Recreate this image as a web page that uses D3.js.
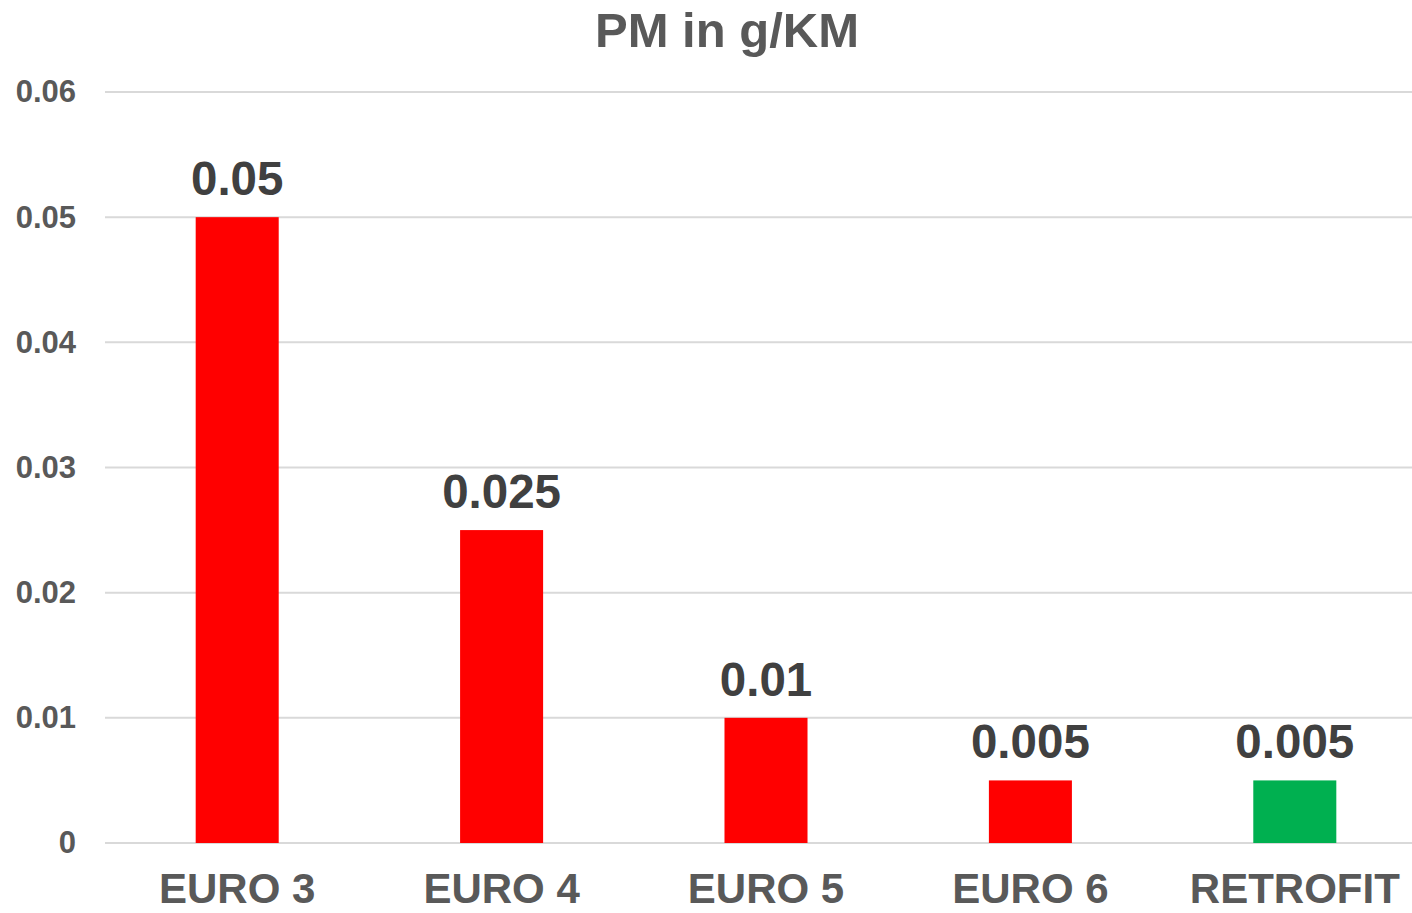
<!DOCTYPE html>
<html>
<head>
<meta charset="utf-8">
<script src="https://cdn.jsdelivr.net/npm/d3@7"></script>
<style>
  body { margin: 0; background: #fff; }
  text { font-family: "Liberation Sans", Arial, sans-serif; font-weight: bold; }
</style>
</head>
<body>
<div id="chart"></div>
<script>
// data
var categories = ["EURO 3", "EURO 4", "EURO 5", "EURO 6", "RETROFIT"];
var values = [0.05, 0.025, 0.01, 0.005, 0.005];
var barColors = ["#ff0000", "#ff0000", "#ff0000", "#ff0000", "#00b050"];
var yTicks = [0, 0.01, 0.02, 0.03, 0.04, 0.05, 0.06];

var width = 1412, height = 913;
var margin = { top: 92, right: -15, bottom: 70, left: 105 };

var svg = d3.select("#chart").append("svg")
    .attr("width", width)
    .attr("height", height);

var x = d3.scaleBand()
    .domain(categories)
    .range([margin.left, width - margin.right])
    .paddingInner(0.686)
    .paddingOuter(0.343);

var y = d3.scaleLinear()
    .domain([0, 0.06])
    .range([height - margin.bottom, margin.top]);

// gridlines
svg.append("g")
    .selectAll("line")
    .data(yTicks)
    .enter().append("line")
    .attr("x1", margin.left)
    .attr("x2", width)
    .attr("y1", function (d) { return y(d); })
    .attr("y2", function (d) { return y(d); })
    .attr("stroke", "#d9d9d9")
    .attr("stroke-width", 2);

// y axis labels
var yAxis = svg.append("g")
    .attr("transform", "translate(" + 76 + ",0)")
    .call(d3.axisLeft(y).tickValues(yTicks).tickSize(0).tickPadding(0)
        .tickFormat(function (d) { return d === 0 ? "0" : d3.format(".2f")(d); }));
yAxis.select(".domain").remove();
yAxis.selectAll("text")
    .attr("fill", "#595959")
    .style("font-size", "31px")
    .attr("dy", "0.32em");

// bars
svg.append("g")
    .selectAll("rect")
    .data(values)
    .enter().append("rect")
    .attr("x", function (d, i) { return x(categories[i]); })
    .attr("y", function (d) { return y(d); })
    .attr("width", x.bandwidth())
    .attr("height", function (d) { return y(0) - y(d); })
    .attr("fill", function (d, i) { return barColors[i]; });

// value labels
svg.append("g")
    .selectAll("text")
    .data(values)
    .enter().append("text")
    .attr("x", function (d, i) { return x(categories[i]) + x.bandwidth() / 2; })
    .attr("y", function (d) { return y(d) - 22; })
    .attr("text-anchor", "middle")
    .attr("fill", "#404040")
    .style("font-size", "47.5px")
    .text(function (d) { return String(d); });

// x axis labels
var xAxis = svg.append("g")
    .attr("transform", "translate(0," + y(0) + ")")
    .call(d3.axisBottom(x).tickSize(0).tickPadding(0));
xAxis.select(".domain").remove();
xAxis.selectAll("text")
    .attr("fill", "#595959")
    .style("font-size", "42px")
    .attr("dy", null)
    .attr("y", 60);

// title
svg.append("text")
    .attr("x", 727)
    .attr("y", 47)
    .attr("text-anchor", "middle")
    .attr("fill", "#595959")
    .style("font-size", "49px")
    .text("PM in g/KM");
</script>
</body>
</html>
